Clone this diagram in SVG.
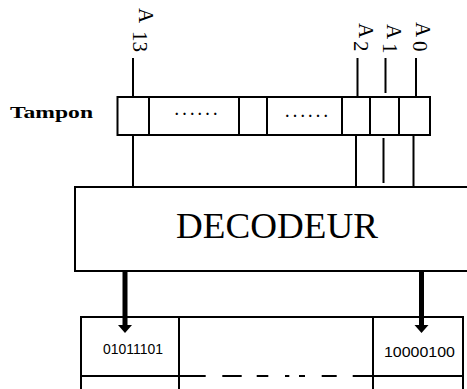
<svg xmlns="http://www.w3.org/2000/svg" width="467" height="389" viewBox="0 0 467 389">
<style>
.ln{stroke:#000;stroke-width:2;fill:none}
.box{stroke:#000;stroke-width:2;fill:#fff}
.lab{font-family:"Liberation Serif",serif;font-size:21px;fill:#000}
.dots{font-family:"Liberation Serif",serif;font-size:14px;font-weight:bold;letter-spacing:4.2px;fill:#000}
.val{font-family:"Liberation Sans",Arial,sans-serif;fill:#000}
.arrow{stroke:#000;stroke-width:5;fill:none}
</style>
<rect width="467" height="389" fill="#fff"/>
<g id="labels">
<g transform="translate(139,8) rotate(90)"><text class="lab"><tspan x="0" y="0">A</tspan><tspan x="23" y="6">13</tspan></text></g>
<g transform="translate(359,23) rotate(90)"><text class="lab"><tspan x="0" y="0">A</tspan><tspan x="18" y="5">2</tspan></text></g>
<g transform="translate(387,24) rotate(90)"><text class="lab"><tspan x="0" y="0">A</tspan><tspan x="19" y="4">1</tspan></text></g>
<g transform="translate(416,22) rotate(90)"><text class="lab"><tspan x="0" y="0">A</tspan><tspan x="19" y="3">0</tspan></text></g>
</g>
<g id="tampon">
<text x="10" y="118" font-family="'Liberation Serif', serif" font-weight="bold" font-size="17" textLength="83" lengthAdjust="spacingAndGlyphs">Tampon</text>
<rect class="box" x="117.5" y="97" width="312.5" height="38"/>
<line class="ln" x1="149" y1="97" x2="149" y2="135"/>
<line class="ln" x1="239" y1="97" x2="239" y2="135"/>
<line class="ln" x1="267" y1="97" x2="267" y2="135"/>
<line class="ln" x1="342" y1="97" x2="342" y2="135"/>
<line class="ln" x1="370" y1="97" x2="370" y2="135"/>
<line class="ln" x1="399" y1="97" x2="399" y2="135"/>
<text class="dots" x="175" y="114.5">......</text>
<text class="dots" x="285.5" y="117">......</text>
</g>
<g id="decodeur">
<rect class="box" x="75" y="187" width="400" height="84"/>
<text x="176" y="238" font-family="'Liberation Serif', serif" font-size="35" textLength="202" lengthAdjust="spacingAndGlyphs">DECODEUR</text>
</g>
<g id="memoire">
<rect class="box" x="81" y="317" width="382" height="90"/>
<line class="ln" x1="179" y1="317" x2="179" y2="389"/>
<line class="ln" x1="373" y1="317" x2="373" y2="389"/>
<line class="ln" x1="81" y1="376" x2="205.7" y2="376"/>
<line class="ln" x1="222.3" y1="376" x2="241.7" y2="376"/>
<line class="ln" x1="256.7" y1="376" x2="268.3" y2="376"/>
<line class="ln" x1="285" y1="376" x2="289.3" y2="376"/>
<line class="ln" x1="299" y1="376" x2="305" y2="376"/>
<line class="ln" x1="321.7" y1="376" x2="336.7" y2="376"/>
<line class="ln" x1="352.7" y1="376" x2="463" y2="376"/>
<text class="val" x="103" y="354" font-size="14" textLength="60" lengthAdjust="spacingAndGlyphs">01011101</text>
<text class="val" x="384" y="357" font-size="15" textLength="71" lengthAdjust="spacingAndGlyphs">10000100</text>
</g>
<g id="connectors">
<line class="ln" x1="133" y1="58" x2="133" y2="97"/>
<line class="ln" x1="357.5" y1="58" x2="357.5" y2="97"/>
<line class="ln" x1="385.5" y1="58" x2="385.5" y2="93"/>
<line class="ln" x1="416" y1="58" x2="416" y2="97"/>
<line class="ln" x1="133" y1="135" x2="133" y2="187"/>
<line class="ln" x1="356" y1="135" x2="356" y2="187"/>
<line class="ln" x1="383.5" y1="138" x2="383.5" y2="183"/>
<line class="ln" x1="413.5" y1="135" x2="413.5" y2="187"/>
<line class="arrow" x1="125" y1="272" x2="125" y2="326"/>
<polygon points="118,325 132,325 125,333" fill="#000"/>
<line class="arrow" x1="421.5" y1="272" x2="421.5" y2="326"/>
<polygon points="414.5,325 428.5,325 421.5,333" fill="#000"/>
</g>
</svg>
